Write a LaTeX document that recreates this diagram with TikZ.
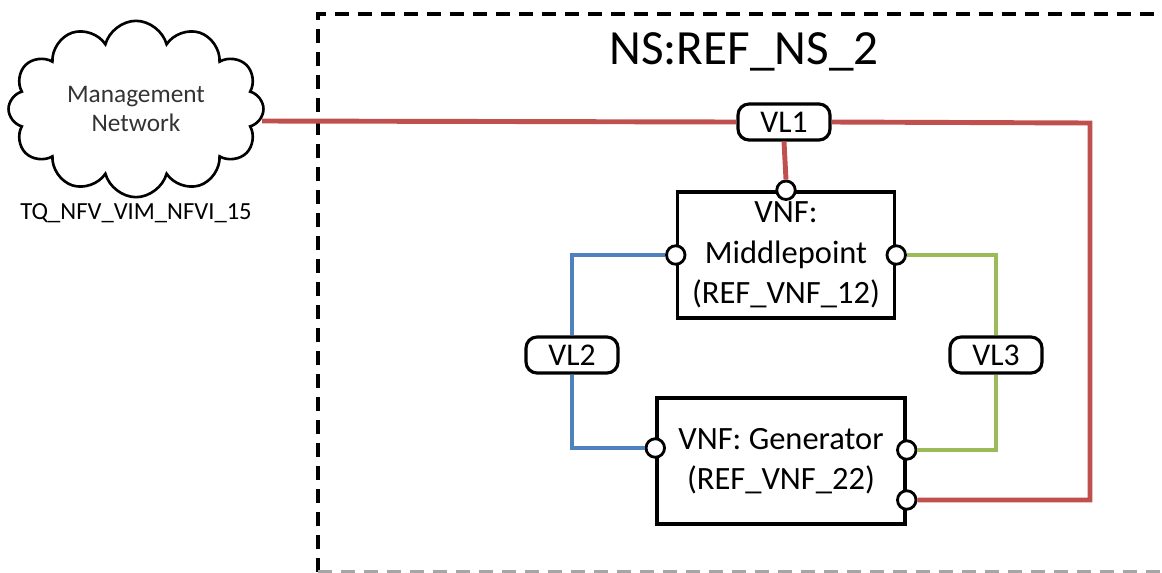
\documentclass[tikz,border=0pt]{standalone}
\usepackage{fontspec}
\setmainfont{Carlito}
\usetikzlibrary{shapes.symbols, positioning}
\definecolor{vlred}{HTML}{C0504D}
\definecolor{vlblue}{HTML}{4F81BD}
\definecolor{vlgreen}{HTML}{9BBB59}

\begin{document}
\begin{tikzpicture}[x=0.02cm, y=-0.02cm,
		vnfbox/.style={draw, line width=2pt, fill=white, align=center, minimum height=2.52cm, font=\fontsize{18.5}{23}\selectfont},
		port/.style={circle, draw, line width=1.6pt, fill=white, inner sep=0pt, minimum size=0.37cm},
		vlbox/.style={draw, line width=1.8pt, fill=white, rounded corners=0.22cm, minimum width=1.84cm, minimum height=0.72cm, font=\fontsize{18}{20}\selectfont},
		link/.style={line width=2.8pt},
		frame/.style={line width=2pt, dash pattern=on 0.28cm off 0.18cm}]
		\useasboundingbox (0,0) rectangle (1162,572);
		\clip (0,0) rectangle (1162,572);
		
		% network service frame
		\draw[frame] (318,572) -- (318,14) -- (1190,14);
		\draw[frame, line width=1.2pt, gray!70] (318,571.5) -- (1190,571.5);
		\node[font=\fontsize{28}{32}\selectfont] (title) at (744,52) {NS:REF\_NS\_2};
		
		% management network
		\node[cloud, draw, cloud puffs=12, aspect=1.52, minimum width=5.1cm, minimum height=3.1cm, line width=1.5pt, align=center, font=\fontsize{14.4}{17}\selectfont, text=black!80] (mgmt) at (136,109) {Management\\Network};
		\node[font=\fontsize{14}{16}\selectfont] (vim) at (136,213) {TQ\_NFV\_VIM\_NFVI\_15};
		\coordinate (mgmtout) at (262,121);
		
		% VNFs
		\node[vnfbox, minimum width=4.34cm] (mid) at (786,255) {VNF:\\Middlepoint\\(REF\_VNF\_12)};
		\node[vnfbox, minimum width=4.96cm] (gen) at (781,461) {VNF: Generator\\(REF\_VNF\_22)};
		
		% virtual links
		\node[vlbox] (vl1) at (784,122) {VL1};
		\node[vlbox] (vl2) at (572,355) {VL2};
		\node[vlbox] (vl3) at (996,355) {VL3};
		\coordinate (rc) at (1090,123);
		
		% ports
		\node[port] (m1) at (mid.north) {};
		\node[port] (m2) at (mid.west) {};
		\node[port] (m3) at (mid.east) {};
		\node[port] (g1) at ([yshift=0.26cm]gen.west) {};
		\node[port] (g2) at ([yshift=0.22cm]gen.east) {};
		\node[port] (g3) at ([yshift=-0.78cm]gen.east) {};
		
		% links
		\draw[link, vlred] (mgmtout) -- (vl1.west);
		\draw[link, vlred] (vl1.east) -- (rc) |- (g3.east);
		\draw[link, vlred] (vl1.south) -- (m1.north);
		\draw[link, vlblue] (m2.west) -| (vl2.north);
		\draw[link, vlblue] (vl2.south) |- (g1.west);
		\draw[link, vlgreen] (m3.east) -| (vl3.north);
		\draw[link, vlgreen] (vl3.south) |- (g2.east);
	\end{tikzpicture}
\end{document}
